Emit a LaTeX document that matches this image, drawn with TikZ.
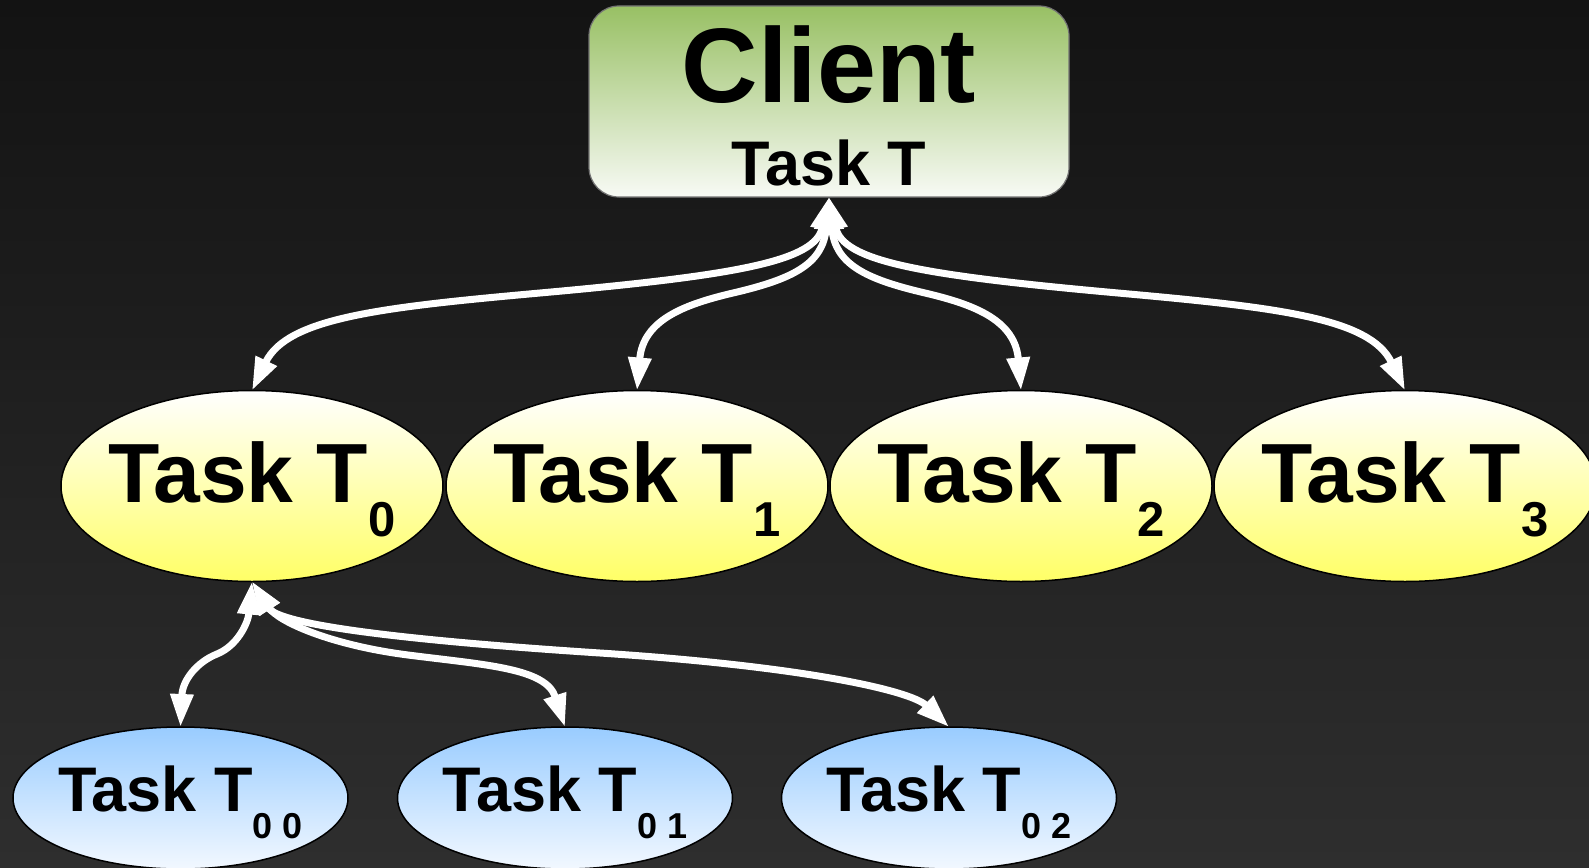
\documentclass[tikz,border=0pt]{standalone}
\usepackage{fontspec}
\setmainfont{Liberation Sans}
\usetikzlibrary{arrows.meta,shapes.geometric}

\definecolor{bgtop}{HTML}{131313}
\definecolor{bgbot}{HTML}{2E2E2E}
\definecolor{greentop}{HTML}{98C064}
\definecolor{greenbot}{HTML}{F8FAF5}
\definecolor{yeltop}{HTML}{FFFFFF}
\definecolor{yelbot}{HTML}{FFFF66}
\definecolor{bluetop}{HTML}{99CCFF}
\definecolor{bluebot}{HTML}{F2F8FF}

\newcommand{\ylabeltext}[1]{\makebox[0pt]{\raisebox{-16pt}[0pt][0pt]{\fontsize{84}{84}\selectfont\bfseries Task T\raisebox{-34pt}{\fontsize{49}{49}\selectfont\bfseries #1}}}}
\newcommand{\blabeltext}[1]{\makebox[0pt]{\raisebox{-13.5pt}[0pt][0pt]{\fontsize{63}{63}\selectfont\bfseries Task T\raisebox{-27pt}{\fontsize{36}{36}\selectfont\bfseries #1}}}}
\newcommand{\clabeltext}{\makebox[0pt]{\raisebox{-1pt}[0pt][0pt]{\fontsize{106}{106}\selectfont\bfseries Client}}\makebox[0pt]{\raisebox{-83.5pt}[0pt][0pt]{\fontsize{63}{63}\selectfont\bfseries Task T}}}

\tikzset{
  yellownode/.style={ellipse, draw=black, line width=1.5pt, top color=yeltop, bottom color=yelbot,
    minimum width=382pt, minimum height=191pt, inner sep=0pt, outer sep=0pt},
  bluenode/.style={ellipse, draw=black, line width=1.5pt, top color=bluetop, bottom color=bluebot,
    minimum width=335pt, minimum height=142pt, inner sep=0pt, outer sep=0pt},
  clientbox/.style={rectangle, rounded corners=30pt, draw=black!55, line width=1.2pt,
    top color=greentop, bottom color=greenbot,
    minimum width=480pt, minimum height=191pt, inner sep=0pt, outer sep=0pt},
  link/.style={draw=white, line width=7pt, >={Triangle[length=33pt,width=22pt]}, <->}
}

\begin{document}
\begin{tikzpicture}[x=1pt,y=-1pt]
\useasboundingbox (0,0) rectangle (1589,867);
\shade[top color=bgtop,bottom color=bgbot] (0,0) rectangle (1589,867);

\node[clientbox] (client) at (829,101.5) {\clabeltext};

\node[yellownode] (t0) at (252,486) {\ylabeltext{0}};
\node[yellownode] (t1) at (637,486) {\ylabeltext{1}};
\node[yellownode] (t2) at (1021,486) {\ylabeltext{2}};
\node[yellownode] (t3) at (1405,486) {\ylabeltext{3}};

\node[bluenode] (t00) at (180.5,798) {\blabeltext{0 0}};
\node[bluenode] (t01) at (565,798) {\blabeltext{0 1}};
\node[bluenode] (t02) at (949,798) {\blabeltext{0 2}};

% client <-> level 1
\draw[link] (client.south) .. controls +(-14,64) and +(200,-18) .. (540,293)
  .. controls +(-160,14.4) and +(35,-72.5) .. (t0.north);
\draw[link] (client.south) .. controls +(-6,67) and +(60,-14) .. (733,293)
  .. controls +(-50,11.7) and +(6,-70) .. (t1.north);
\draw[link] (client.south) .. controls +(6,67) and +(-60,-14) .. (925,293)
  .. controls +(50,11.7) and +(-6,-70) .. (t2.north);
\draw[link] (client.south) .. controls +(14,64) and +(-200,-18) .. (1118,293)
  .. controls +(160,14.4) and +(-35,-72.5) .. (t3.north);

% T0 <-> level 2
\draw[link] (t0.south) .. controls +(-4,42) and +(20,-8) .. (217,654)
  .. controls +(-20,8) and +(2,-47) .. (t00.north);
\draw[link] (t0.south) .. controls +(26,40) and +(-78,-10) .. (408,655)
  .. controls +(78,10) and +(-19,-59) .. (t01.north);
\draw[link] (t0.south) .. controls +(27,43) and +(-200,-13) .. (600,653)
  .. controls +(200,13) and +(-39,-37) .. (t02.north);
\end{tikzpicture}
\end{document}
